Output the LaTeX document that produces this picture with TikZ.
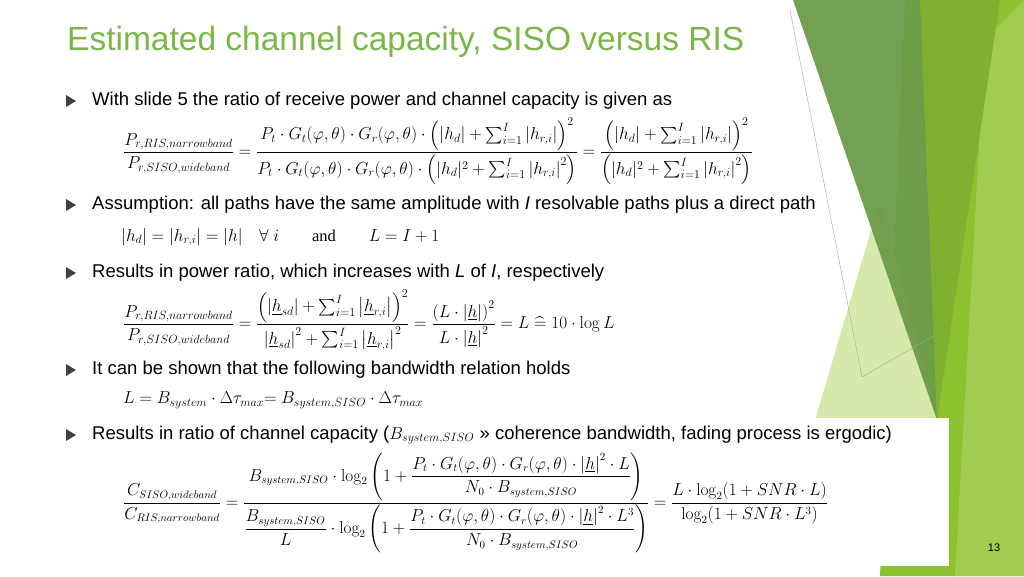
\documentclass[tikz,border=0pt]{standalone}
\usepackage{amsmath,amssymb}
\usepackage[no-math]{fontspec}
\setmainfont{Liberation Sans}
\definecolor{ttl}{RGB}{122,182,72}
\definecolor{gbright}{RGB}{140,194,48}
\definecolor{gmid}{RGB}{128,176,48}
\definecolor{gdark}{RGB}{108,156,74}
\definecolor{gpale}{RGB}{214,232,170}
\definecolor{glite}{RGB}{160,204,80}
\tikzset{bul/.style={fill=black!75,draw=none},
 txt/.style={anchor=west,font=\fontsize{18.5}{21}\selectfont,inner sep=0},
 eq/.style={anchor=west,font=\fontsize{16.5}{19}\selectfont,inner sep=0}}
\begin{document}
\begin{tikzpicture}[x=1pt,y=-1pt]
\useasboundingbox (0,0) rectangle (1024,576);
\fill[white] (0,0) rectangle (1024,576);
% decoration
\fill[gbright] (905,0) -- (1024,0) -- (1024,576) -- (880,576) -- cycle;
\fill[glite] (985,40) -- (1024,0) -- (1024,576) -- (955,576) -- cycle;
\fill[gpale] (880,200) -- (937,420) -- (815,420) -- cycle;
\fill[gmid] (920,0) -- (1000,0) -- (937,420) -- cycle;
\fill[gdark,opacity=0.95] (793,0) -- (920,0) -- (937,420) -- cycle;
\draw[gray!70,thin] (790,10) -- (862,377) -- (935,335);
\fill[white] (0,418) rectangle (949,566);
% title
\node[anchor=west,inner sep=0,text=ttl,font=\fontsize{33.5}{38}\selectfont] (title) at (67,42) {Estimated channel capacity, SISO versus RIS};
% bullets
\foreach \y in {101,205,273,370,435}
  \fill[bul] (66,\y-6) -- (76,\y) -- (66,\y+6) -- cycle;
\node[txt] (t1) at (92,101) {With slide 5 the ratio of receive power and channel capacity is given as};
\node[txt] (t2) at (92,205) {Assumption: all paths have the same amplitude with \textit{I} resolvable paths plus a direct path};
\node[txt] (t3) at (92,273) {Results in power ratio, which increases with \textit{L} of \textit{I}, respectively};
\node[txt] (t4) at (92,370) {It can be shown that the following bandwidth relation holds};
\node[txt] (t5) at (92,435) {Results in ratio of channel capacity ($B_{system,SISO}$ >> coherence bandwidth, fading process is ergodic)};
% equations
\node[eq] (e1) at (123,151) {$\displaystyle \frac{P_{r,RIS,narrowband}}{P_{r,SISO,wideband}}=\frac{P_t\cdot G_t(\varphi,\theta)\cdot G_r(\varphi,\theta)\cdot\left(|h_d|+\sum_{i=1}^{I}\left|h_{r,i}\right|\right)^2}{P_t\cdot G_t(\varphi,\theta)\cdot G_r(\varphi,\theta)\cdot\left(|h_d|^2+\sum_{i=1}^{I}\left|h_{r,i}\right|^2\right)}=\frac{\left(|h_d|+\sum_{i=1}^{I}\left|h_{r,i}\right|\right)^2}{\left(|h_d|^2+\sum_{i=1}^{I}\left|h_{r,i}\right|^2\right)}$};
\node[eq] (e2) at (121,237) {$|h_d|=\left|h_{r,i}\right|=|h|\quad\forall\ i\qquad\text{\fontspec{Liberation Serif}and}\qquad L=I+1$};
\node[eq] (e3) at (123,320) {$\displaystyle \frac{P_{r,RIS,narrowband}}{P_{r,SISO,wideband}}=\frac{\left(\left|\underline{h}_{sd}\right|+\sum_{i=1}^{I}\left|\underline{h}_{r,i}\right|\right)^2}{\left|\underline{h}_{sd}\right|^2+\sum_{i=1}^{I}\left|\underline{h}_{r,i}\right|^2}=\frac{\left(L\cdot\left|\underline{h}\right|\right)^2}{L\cdot\left|\underline{h}\right|^2}=L\mathrel{\widehat{=}}10\cdot\log L$};
\node[eq] (e4) at (123,400) {$L=B_{system}\cdot\Delta\tau_{max}{=}\ B_{system,SISO}\cdot\Delta\tau_{max}$};
\node[eq,font=\fontsize{16}{18}\selectfont] (e5) at (123,503) {$\displaystyle \frac{C_{SISO,wideband}}{C_{RIS,narrowband}}=\frac{B_{system,SISO}\cdot\log_2\left(1+\dfrac{P_t\cdot G_t(\varphi,\theta)\cdot G_r(\varphi,\theta)\cdot\left|\underline{h}\right|^2\cdot L}{N_0\cdot B_{system,SISO}}\right)}{\dfrac{B_{system,SISO}}{L}\cdot\log_2\left(1+\dfrac{P_t\cdot G_t(\varphi,\theta)\cdot G_r(\varphi,\theta)\cdot\left|\underline{h}\right|^2\cdot L^3}{N_0\cdot B_{system,SISO}}\right)}=\frac{L\cdot\log_2(1+SNR\cdot L)}{\log_2(1+SNR\cdot L^3)}$};
\node[inner sep=0,font=\fontsize{11}{13}\selectfont] (pg) at (994,548) {13};
\end{tikzpicture}
\end{document}
